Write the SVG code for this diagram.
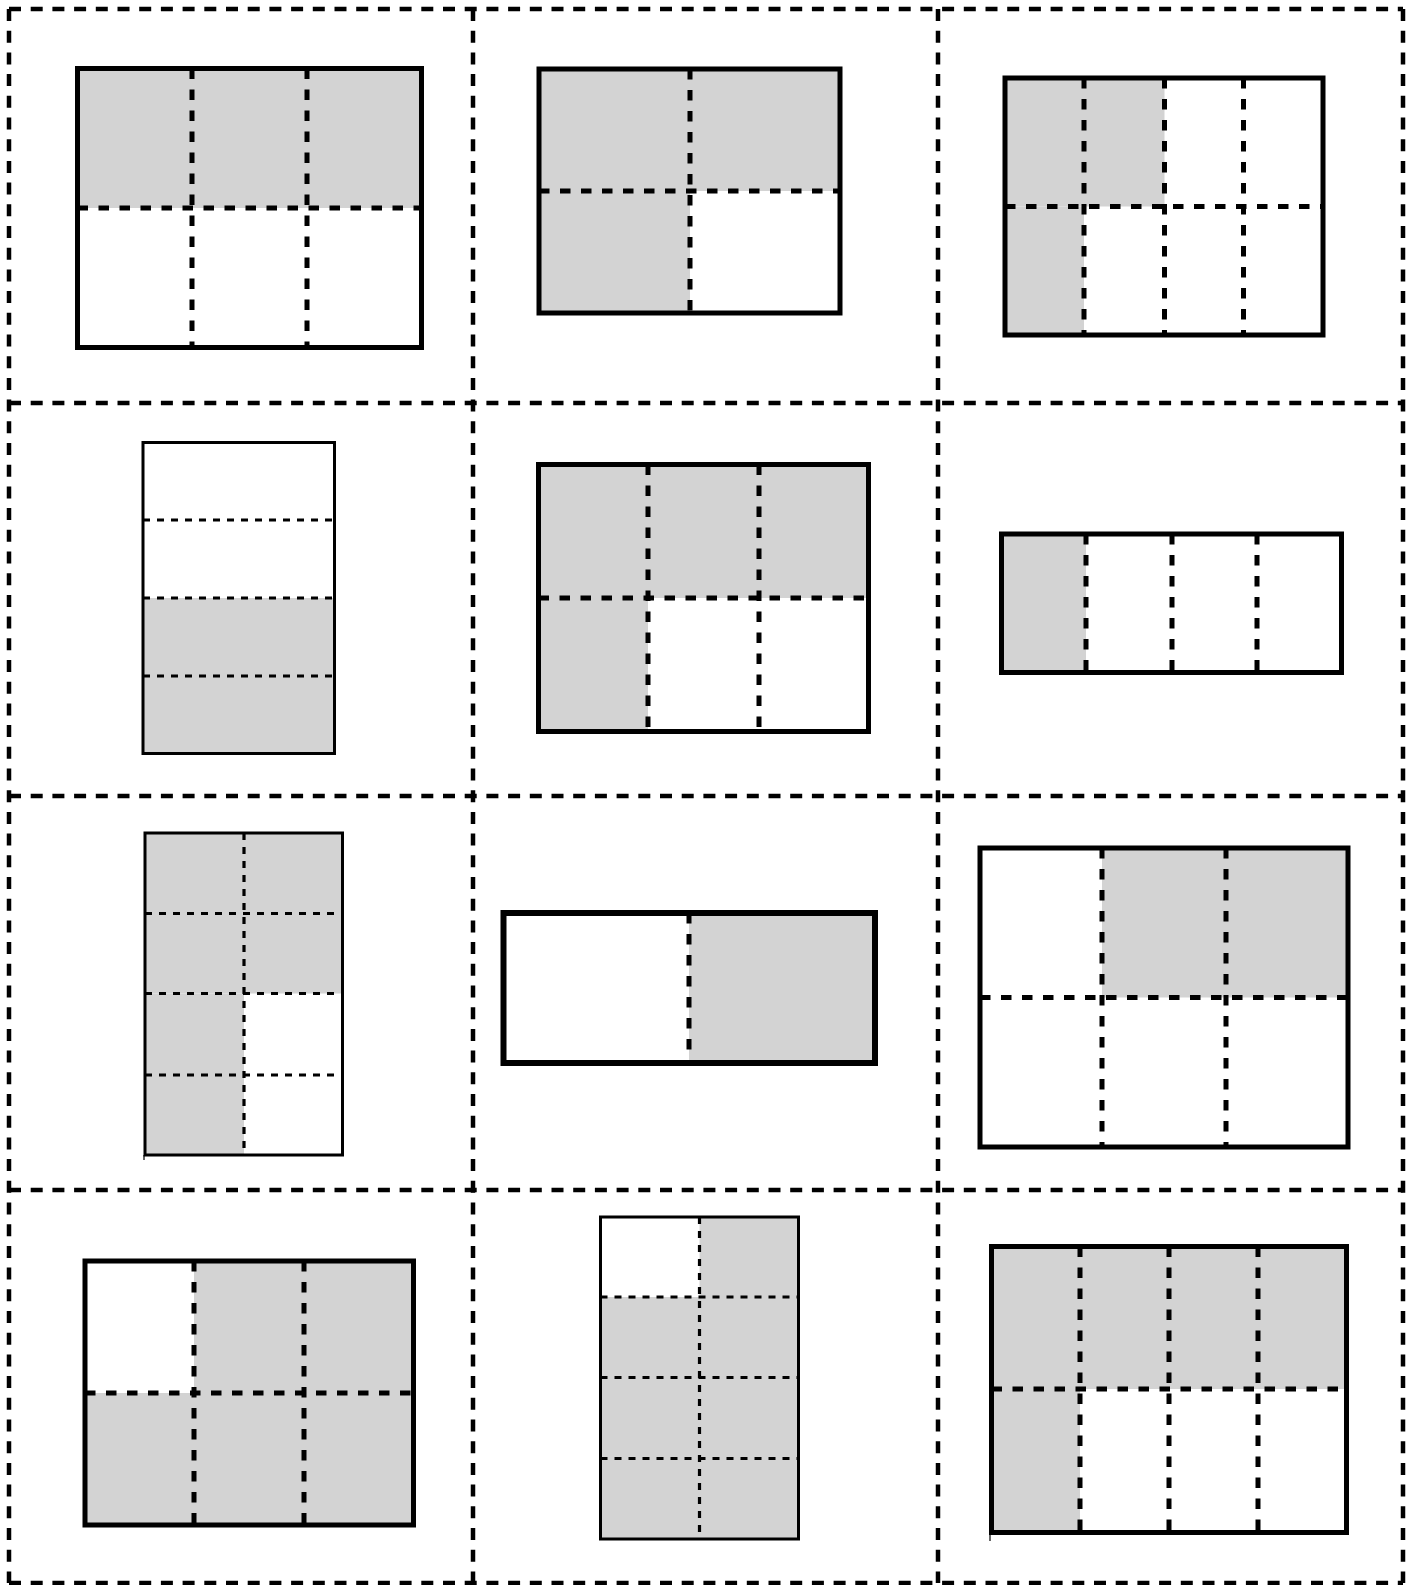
<svg xmlns="http://www.w3.org/2000/svg" width="1416" height="1585" viewBox="0 0 1416 1585">
<style>
.bg{fill:#ffffff}
.grid{stroke:#000;stroke-width:4.5;stroke-dasharray:12 9.7;fill:none}
.sh{fill:#d3d3d3;stroke:none}
.fr{fill:none;stroke:#000;stroke-width:5}
.frt{fill:none;stroke:#000;stroke-width:3}
.dv{stroke:#000;stroke-width:5;stroke-dasharray:10.5 10.5;fill:none}
.dvt{stroke:#000;stroke-width:3.2;stroke-dasharray:7 7;fill:none}
.tick{stroke:#000;stroke-width:1.2;fill:none}
</style>
<rect class="bg" x="0" y="0" width="1416" height="1585"/>
<g id="grid">
<path class="grid" d="M9 9V1583M473 9V1583M938 9V1583M1403 9V1583"/>
<path class="grid" d="M9 9H1403M9 403H1403M9 796H1403M9 1190H1403M9 1583H1403"/>
</g>
<g id="cell-1">
<rect class="sh" x="77.5" y="68.5" width="344" height="139.5"/>
<path class="dv" d="M192 68.5V347.5M307 68.5V347.5M77.5 208H421.5"/>
<rect class="fr" x="77.5" y="68.5" width="344" height="279"/>
</g>
<g id="cell-2">
<rect class="sh" x="539" y="69" width="301" height="122"/>
<rect class="sh" x="539" y="191" width="151" height="122"/>
<path class="dv" d="M690 69V313M539 191H840"/>
<rect class="fr" x="539" y="69" width="301" height="244"/>
</g>
<g id="cell-3">
<rect class="sh" x="1005" y="78" width="159.5" height="128.5"/>
<rect class="sh" x="1005" y="206.5" width="79" height="128.5"/>
<path class="dv" d="M1084 78V335M1164.5 78V335M1243.5 78V335M1005 206.5H1323"/>
<rect class="fr" x="1005" y="78" width="318" height="257"/>
</g>
<g id="cell-4">
<rect class="sh" x="143" y="598" width="191.5" height="155.5"/>
<path class="dvt" d="M143 520H334.5M143 598H334.5M143 676H334.5"/>
<rect class="frt" x="143" y="442.5" width="191.5" height="311"/>
</g>
<g id="cell-5">
<rect class="sh" x="538.5" y="464.5" width="330" height="133.5"/>
<rect class="sh" x="538.5" y="598" width="109.5" height="133.5"/>
<path class="dv" d="M648 464.5V731.5M759 464.5V731.5M538.5 598H868.5"/>
<rect class="fr" x="538.5" y="464.5" width="330" height="267"/>
</g>
<g id="cell-6">
<rect class="sh" x="1001.5" y="534" width="84.5" height="138.5"/>
<path class="dv" d="M1086 534V672.5M1172 534V672.5M1257 534V672.5"/>
<rect class="fr" x="1001.5" y="534" width="340" height="138.5"/>
</g>
<g id="cell-7">
<rect class="sh" x="145" y="833" width="197.5" height="160.5"/>
<rect class="sh" x="145" y="993.5" width="99" height="161.5"/>
<path class="dvt" d="M244 833V1155M145 913.5H342.5M145 993.5H342.5M145 1075H342.5"/>
<rect class="frt" x="145" y="833" width="197.5" height="322"/>
<path class="tick" d="M144 1155V1160"/>
</g>
<g id="cell-8">
<rect class="sh" x="689" y="913" width="186" height="150"/>
<path class="dv" d="M689 913V1063"/>
<rect class="fr" x="503.5" y="913" width="371.5" height="150" style="stroke-width:6"/>
</g>
<g id="cell-9">
<rect class="sh" x="1102" y="848" width="246" height="149.5"/>
<path class="dv" d="M1102 848V1147M1226 848V1147M980 997.5H1348"/>
<rect class="fr" x="980" y="848" width="368" height="299"/>
</g>
<g id="cell-10">
<rect class="sh" x="194" y="1261" width="219.5" height="132"/>
<rect class="sh" x="85" y="1393" width="328.5" height="132"/>
<path class="dv" d="M194 1261V1525M304 1261V1525M85 1393H413.5"/>
<rect class="fr" x="85" y="1261" width="328.5" height="264"/>
</g>
<g id="cell-11">
<rect class="sh" x="699.5" y="1217" width="99" height="80"/>
<rect class="sh" x="600.5" y="1297" width="198" height="242"/>
<path class="dvt" d="M699.5 1217V1539M600.5 1297H798.5M600.5 1377.5H798.5M600.5 1458.5H798.5"/>
<rect class="frt" x="600.5" y="1217" width="198" height="322"/>
</g>
<g id="cell-12">
<rect class="sh" x="991.5" y="1246.5" width="355" height="142.5"/>
<rect class="sh" x="991.5" y="1389" width="88.5" height="143.5"/>
<path class="dv" d="M1080 1246.5V1532.5M1169 1246.5V1532.5M1258 1246.5V1532.5M991.5 1389H1346.5"/>
<rect class="fr" x="991.5" y="1246.5" width="355" height="286"/>
<path class="tick" d="M990 1532.5V1541"/>
</g>
</svg>
